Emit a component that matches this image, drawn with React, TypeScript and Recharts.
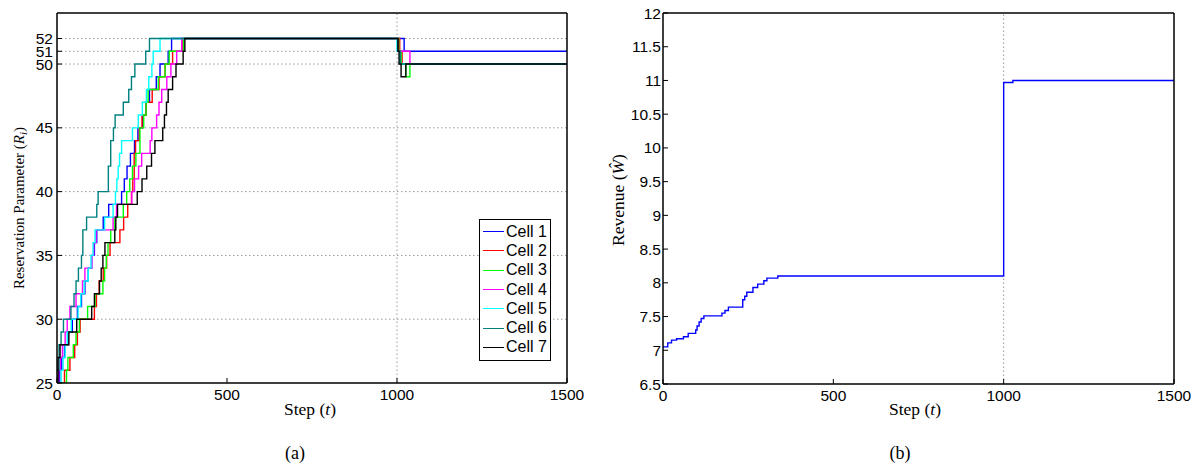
import { Legend, Line, LineChart, ReferenceLine, XAxis, YAxis } from "recharts";

type Step = [number, number];

const stepTicks = [0, 500, 1000, 1500];
const reservationTicks = [25, 30, 35, 40, 45, 50, 51, 52];
const revenueTicks = [6.5, 7, 7.5, 8, 8.5, 9, 9.5, 10, 10.5, 11, 11.5, 12];

const cellNames = ["Cell 1", "Cell 2", "Cell 3", "Cell 4", "Cell 5", "Cell 6", "Cell 7"];
const cellColors = ["#0000ff", "#ff0000", "#00ff00", "#ff00ff", "#00ffff", "#008080", "#000000"];

// [step, reservation parameter] at every change
const cell1: Step[] = [
  [0, 25], [8, 26], [14, 27], [22, 28], [32, 29], [45, 30], [60, 31], [72, 32], [82, 33],
  [92, 34], [102, 35], [110, 36], [117, 37], [136, 38], [152, 39], [190, 40], [198, 41],
  [206, 42], [216, 43], [228, 44], [238, 45], [252, 46], [262, 47], [272, 48], [292, 49],
  [303, 50], [327, 51], [337, 52], [1021, 51],
];
const cell2: Step[] = [
  [0, 25], [22, 26], [38, 27], [52, 28], [60, 29], [68, 30], [110, 31], [116, 32], [124, 33],
  [136, 34], [146, 35], [156, 36], [185, 37], [196, 38], [208, 39], [219, 40], [223, 41],
  [227, 43], [231, 44], [242, 45], [250, 46], [262, 47], [280, 48], [300, 49], [318, 50],
  [340, 51], [368, 52], [1008, 51], [1015, 50],
];
const cell3: Step[] = [
  [0, 25], [28, 26], [32, 27], [48, 28], [56, 29], [66, 30], [90, 31], [112, 32], [135, 33],
  [140, 34], [145, 35], [150, 36], [158, 37], [170, 38], [195, 39], [205, 40], [214, 41],
  [222, 42], [232, 43], [244, 45], [255, 46], [262, 47], [268, 48], [298, 49], [318, 50],
  [330, 51], [372, 52], [1005, 51], [1012, 50], [1026, 49], [1038, 50],
];
const cell4: Step[] = [
  [0, 25], [5, 26], [10, 27], [16, 28], [24, 29], [30, 30], [38, 31], [56, 32], [75, 33],
  [82, 34], [102, 35], [108, 36], [115, 37], [165, 38], [175, 39], [220, 40], [228, 41],
  [240, 42], [249, 43], [274, 44], [279, 45], [293, 46], [300, 47], [308, 48], [323, 49],
  [335, 50], [352, 51], [367, 52], [1003, 51], [1038, 50],
];
const cell5: Step[] = [
  [0, 25], [12, 26], [18, 27], [24, 28], [30, 29], [42, 30], [62, 31], [70, 32], [80, 33],
  [92, 34], [100, 35], [106, 36], [112, 37], [140, 38], [165, 39], [172, 40], [176, 41],
  [180, 42], [184, 43], [190, 44], [222, 45], [239, 46], [251, 47], [263, 48], [270, 49],
  [279, 50], [283, 51], [303, 52], [1000, 51], [1008, 50],
];
const cell6: Step[] = [
  [0, 26], [6, 28], [12, 29], [19, 30], [41, 31], [50, 32], [56, 33], [63, 34], [72, 35],
  [76, 37], [87, 38], [117, 39], [121, 40], [151, 42], [158, 44], [166, 45], [171, 46],
  [195, 47], [211, 48], [219, 49], [229, 50], [261, 51], [272, 52], [1002, 51], [1010, 50],
];
const cell7: Step[] = [
  [0, 25], [3, 27], [9, 28], [35, 29], [58, 30], [102, 31], [110, 32], [125, 33], [130, 34],
  [135, 35], [141, 36], [170, 37], [173, 38], [178, 39], [236, 40], [250, 41], [264, 42],
  [278, 43], [288, 44], [311, 45], [316, 46], [322, 47], [327, 48], [340, 49], [350, 50],
  [371, 51], [376, 52], [1003, 51], [1006, 50], [1012, 49], [1026, 50],
];
const cells = [cell1, cell2, cell3, cell4, cell5, cell6, cell7];

// [step, revenue]
const revenue: Step[] = [
  [0, 7.05], [14, 7.11], [25, 7.15], [40, 7.17], [60, 7.2], [74, 7.25], [96, 7.3],
  [100, 7.36], [106, 7.42], [112, 7.47], [120, 7.51], [173, 7.55], [182, 7.59], [192, 7.64],
  [234, 7.75], [240, 7.8], [246, 7.86], [264, 7.93], [278, 7.98], [296, 8.03], [305, 8.07],
  [337, 8.1], [1000, 10.97], [1027, 11.0],
];

const END = 1500;
const toPoints = (steps: Step[]) => [
  ...steps.map(([t, v]) => ({ t, v })),
  { t: END, v: steps[steps.length - 1][1] },
];

const sans = "'Liberation Sans', Arial, sans-serif";
const serif = "'Liberation Serif', 'Times New Roman', serif";
const tickFont = { fill: "#000", fontSize: 15.5, fontFamily: sans };
const axisLine = { stroke: "#000", strokeWidth: 1.5 };
const tickLine = { stroke: "#000" };
const gridStyle = { stroke: "#999", strokeDasharray: "1.5 2.5", strokeWidth: 1 };

// legend entries come straight from the cell names/colours so the order and colours stay fixed
const LegendBox = () => (
  <div
    style={{
      border: "1px solid #000",
      background: "#fff",
      padding: "2px 3px 3px 3px",
      fontFamily: sans,
      fontSize: 16,
      color: "#000",
    }}
  >
    {cellNames.map((name, i) => (
      <div key={name} style={{ display: "flex", alignItems: "center", height: 19.3 }}>
        <span
          style={{
            display: "inline-block",
            width: 21,
            borderTop: `1.5px solid ${cellColors[i]}`,
            marginRight: 2,
          }}
        />
        <span>{name}</span>
      </div>
    ))}
  </div>
);

export default function App() {
  return (
    <div style={{ position: "absolute", left: 0, top: 0, width: 1198, height: 464, background: "#fff" }}>
      <div style={{ position: "absolute", left: 0, top: 0 }}>
        <LineChart width={600} height={464} margin={{ top: 12, right: 32, bottom: 51, left: 7 }}>
          <XAxis
            dataKey="t"
            type="number"
            domain={[0, END]}
            ticks={stepTicks}
            interval={0}
            height={30}
            tickSize={-5}
            tickMargin={11}
            tick={tickFont}
            axisLine={axisLine}
            tickLine={tickLine}
            allowDataOverflow
          />
          <XAxis
            xAxisId="top"
            orientation="top"
            type="number"
            domain={[0, END]}
            ticks={stepTicks}
            interval={0}
            height={1}
            tickSize={-5}
            tick={false}
            axisLine={axisLine}
            tickLine={tickLine}
            allowDataOverflow
          />
          <YAxis
            type="number"
            domain={[25, 54]}
            ticks={reservationTicks}
            interval={0}
            width={50}
            tickSize={-5}
            tickMargin={9}
            tick={tickFont}
            axisLine={axisLine}
            tickLine={tickLine}
            allowDataOverflow
          />
          <YAxis
            yAxisId="right"
            orientation="right"
            type="number"
            domain={[25, 54]}
            ticks={reservationTicks}
            interval={0}
            width={1}
            tickSize={-5}
            tick={false}
            axisLine={axisLine}
            tickLine={tickLine}
            allowDataOverflow
          />
          {reservationTicks.slice(1).map((v) => (
            <ReferenceLine key={v} y={v} {...gridStyle} />
          ))}
          <ReferenceLine x={1000} {...gridStyle} />
          {cells.map((steps, i) => (
            <Line
              key={cellNames[i]}
              data={toPoints(steps)}
              dataKey="v"
              name={cellNames[i]}
              type="stepAfter"
              stroke={cellColors[i]}
              strokeWidth={1.4}
              dot={false}
              isAnimationActive={false}
            />
          ))}
          <Legend
            layout="vertical"
            align="center"
            verticalAlign="middle"
            content={LegendBox}
            wrapperStyle={{ position: "absolute", left: 479, top: 219, width: "auto", height: "auto" }}
          />
        </LineChart>
      </div>

      <div style={{ position: "absolute", left: 600, top: 0 }}>
        <LineChart width={598} height={464} margin={{ top: 12, right: 23, bottom: 50, left: 13 }}>
          <XAxis
            dataKey="t"
            type="number"
            domain={[0, END]}
            ticks={stepTicks}
            interval={0}
            height={30}
            tickSize={-5}
            tickMargin={11}
            tick={tickFont}
            axisLine={axisLine}
            tickLine={tickLine}
            allowDataOverflow
          />
          <XAxis
            xAxisId="top"
            orientation="top"
            type="number"
            domain={[0, END]}
            ticks={stepTicks}
            interval={0}
            height={1}
            tickSize={-5}
            tick={false}
            axisLine={axisLine}
            tickLine={tickLine}
            allowDataOverflow
          />
          <YAxis
            type="number"
            domain={[6.5, 12]}
            ticks={revenueTicks}
            interval={0}
            width={50}
            tickSize={-5}
            tickMargin={7}
            tick={tickFont}
            axisLine={axisLine}
            tickLine={tickLine}
            allowDataOverflow
          />
          <YAxis
            yAxisId="right"
            orientation="right"
            type="number"
            domain={[6.5, 12]}
            ticks={revenueTicks}
            interval={0}
            width={1}
            tickSize={-5}
            tick={false}
            axisLine={axisLine}
            tickLine={tickLine}
            allowDataOverflow
          />
          <ReferenceLine x={1000} {...gridStyle} />
          <Line
            data={toPoints(revenue)}
            dataKey="v"
            name="Revenue"
            type="stepAfter"
            stroke="#0000ff"
            strokeWidth={1.4}
            dot={false}
            isAnimationActive={false}
          />
        </LineChart>
      </div>

      <svg
        width={1198}
        height={464}
        style={{ position: "absolute", left: 0, top: 0, pointerEvents: "none" }}
        fontFamily={serif}
        fill="#000"
      >
        <text transform="translate(24,208) rotate(-90)" textAnchor="middle" fontSize={15}>
          Reservation Parameter (<tspan fontStyle="italic">R</tspan>
          <tspan fontStyle="italic" fontSize={11} dy={3}>i</tspan>
          <tspan dy={-3}>)</tspan>
        </text>
        <text transform="translate(624,200) rotate(-90)" textAnchor="middle" fontSize={17.5}>
          Revenue (<tspan fontStyle="italic">Ŵ</tspan>)
        </text>
        <text x={310} y={415} textAnchor="middle" fontSize={17.5}>
          Step (<tspan fontStyle="italic">t</tspan>)
        </text>
        <text x={915} y={415} textAnchor="middle" fontSize={17.5}>
          Step (<tspan fontStyle="italic">t</tspan>)
        </text>
        <text x={295} y={459} textAnchor="middle" fontSize={18}>(a)</text>
        <text x={900} y={459} textAnchor="middle" fontSize={18}>(b)</text>
      </svg>
    </div>
  );
}
